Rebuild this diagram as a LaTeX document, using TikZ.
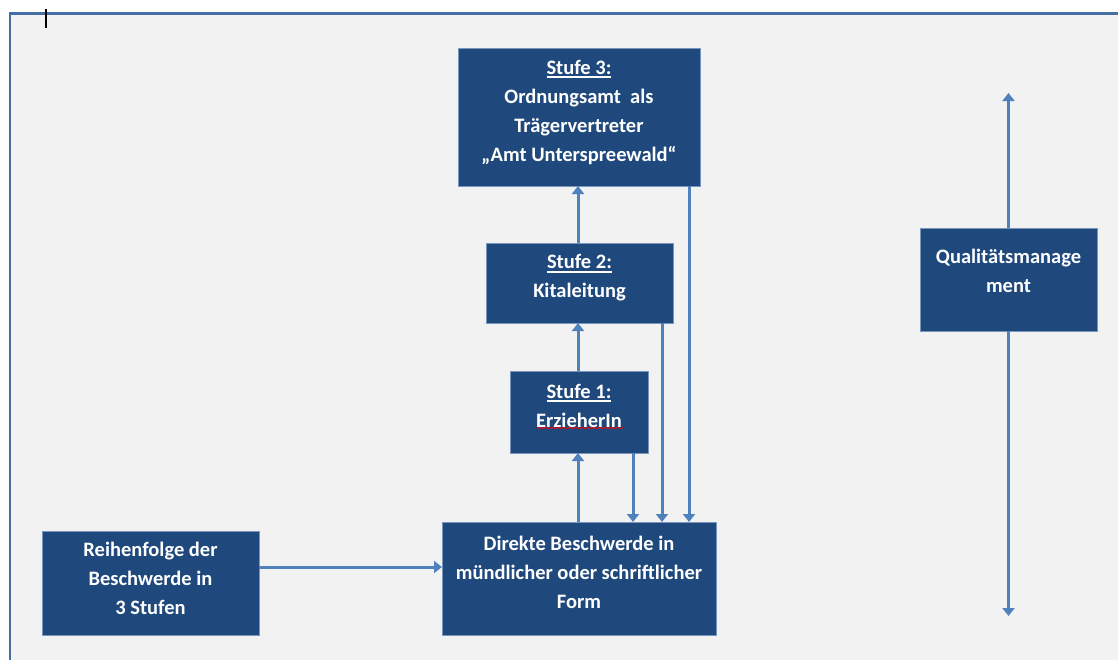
\documentclass[tikz,border=0pt]{standalone}
\usepackage{fontspec}
\setmainfont{Carlito}
\usetikzlibrary{arrows.meta,decorations.pathmorphing,calc}
\definecolor{boxblue}{RGB}{31,73,125}
\definecolor{boxedge}{RGB}{120,150,190}
\definecolor{arrblue}{RGB}{79,129,189}
\definecolor{framebg}{RGB}{242,242,242}
\definecolor{frameline}{RGB}{70,110,165}
\newcommand\myul[1]{\setbox0\hbox{#1}\rlap{\rule[-4pt]{\wd0}{1.6pt}}\box0}
\begin{document}
\begin{tikzpicture}[x=1pt,y=-1pt,
  blk/.style={draw=boxedge,line width=0.8pt,fill=boxblue,inner sep=0pt,outer sep=0pt},
  txt/.style={text=white,font=\bfseries\fontsize{20.5}{29}\selectfont,align=center,inner sep=0pt},
  arr/.style={draw=arrblue,line width=3pt,-{Triangle[width=12pt,length=8pt]}}]
\useasboundingbox (0,0) rectangle (1118,659);
\clip (0,0) rectangle (1118,659);
\fill[white] (0,0) rectangle (1118,659);
\draw[frameline,line width=2.2pt,fill=framebg] (10,13.5) rectangle (1140,680);
\draw[black,line width=2.5pt] (46,9) -- (46,28);

% boxes
\node[blk,minimum width=242pt,minimum height=138pt] (s3) at (579,117) {};
\node[blk,minimum width=187pt,minimum height=80pt] (s2) at (579.5,283) {};
\node[blk,minimum width=138pt,minimum height=82pt] (s1) at (579,412) {};
\node[blk,minimum width=274pt,minimum height=113pt] (dir) at (579,578.5) {};
\node[blk,minimum width=217pt,minimum height=104pt] (rf) at (150.5,583) {};
\node[blk,minimum width=177pt,minimum height=103pt] (q) at (1008.5,279.5) {};

% texts
\node[txt] (s3t) at (579,112) {\myul{Stufe 3:}\\Ordnungsamt\ \ als\\Trägervertreter\\„Amt Unterspreewald“};
\node[txt] (s2t) at (579.5,278) {\myul{Stufe 2:}\\Kitaleitung};
\node[txt] (s1t) at (579,405.5) {\myul{Stufe 1:}\\ErzieherIn};
\node[txt] (dirt) at (579,572) {Direkte Beschwerde in\\mündlicher oder schriftlicher\\Form};
\node[txt] (rft) at (150.5,578.5) {Reihenfolge der\\Beschwerde in\\3 Stufen};
\node[txt] (qt) at (1008.5,271) {Qualitätsmanage\\ment};

\draw[red,line width=0.6pt,decorate,decoration={snake,amplitude=0.8pt,segment length=3pt}] (537,428) -- (623,428);

% upward arrows
\draw[arr] (dir.north -| 578,0) -- (s1.south -| 578,0);
\draw[arr] (s1.north -| 578,0) -- (s2.south -| 578,0);
\draw[arr] (s2.north -| 578,0) -- (s3.south -| 578,0);
% downward arrows
\draw[arr] ([xshift=-15pt]s1.south east) -- ([xshift=-15pt]s1.south east |- dir.north);
\draw[arr] ([xshift=-11pt]s2.south east) -- ([xshift=-11pt]s2.south east |- dir.north);
\draw[arr] ([xshift=-11pt]s3.south east) -- ([xshift=-11pt]s3.south east |- dir.north);
% horizontal arrow
\draw[arr] ([yshift=16pt]rf.east) -- ([yshift=16pt]rf.east -| dir.west);
% quality management arrows
\coordinate (qtop) at (1008.5,93);
\coordinate (qbot) at (1008.5,616);
\draw[arr] (q.north) -- (qtop);
\draw[arr] (q.south) -- (qbot);
\end{tikzpicture}
\end{document}
